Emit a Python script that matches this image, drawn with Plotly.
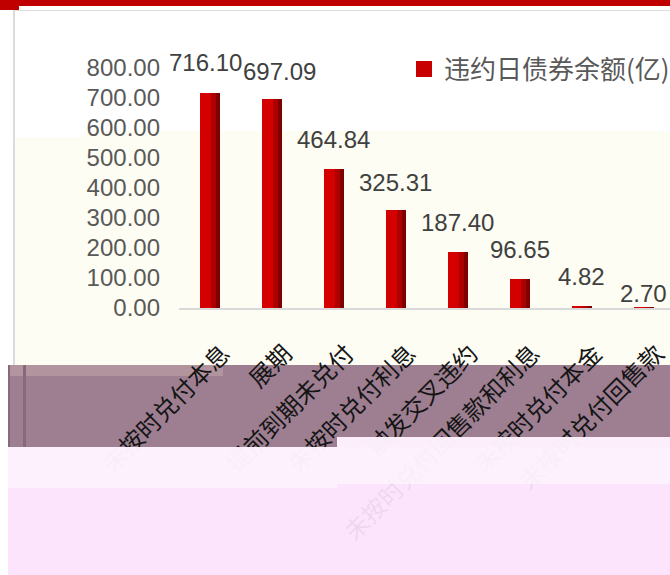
import plotly.graph_objects as go

# ---- data ----
categories = ["未按时兑付本息", "展期", "提前到期未兑付", "未按时兑付利息",
              "触发交叉违约", "未按时兑付回售款和利息", "未按时兑付本金", "未按时兑付回售款"]
values = [716.10, 697.09, 464.84, 325.31, 187.40, 96.65, 4.82, 2.70]
series_name = "违约日债券余额(亿)"
y_ticks = [0, 100, 200, 300, 400, 500, 600, 700, 800]

# ---- styling (pixel geometry of the picture) ----
W, H = 670, 575
L, R, T, B = 179, 0, 68, 267
PW, PH = W - L - R, H - T - B


def X(px):
    return (px - L) / PW


def Y(py):
    return (H - B - py) / PH


label_dx = [-5, 8, 0, 0, 0, 0, 0, 0]
label_dy = [31, 27, 29, 28, 29, 30, 30, 14]

fig = go.Figure()

fig.add_trace(go.Bar(x=categories, y=values, width=0.32, marker=dict(color="#d40000", line=dict(width=0)),
                     showlegend=False, hoverinfo="skip"))
fig.add_trace(go.Bar(x=categories, y=values, width=0.15, offset=0.01, marker=dict(color="#ad0000", line=dict(width=0)),
                     showlegend=False, hoverinfo="skip"))
fig.add_trace(go.Bar(x=categories, y=values, width=0.07, offset=0.09, marker=dict(color="#7e0000", line=dict(width=0)),
                     showlegend=False, hoverinfo="skip"))
fig.add_trace(go.Scatter(x=[None], y=[None], mode="markers", name=series_name,
                         marker=dict(symbol="square", size=17, color="#c80000")))

for i, (c, v) in enumerate(zip(categories, values)):
    fig.add_annotation(x=c, y=v, text=f"{v:.2f}", showarrow=False, xref="x", yref="y",
                       xshift=label_dx[i], yshift=label_dy[i], yanchor="middle",
                       font=dict(family="Liberation Sans", size=24, color="#404040"))

shapes = []


def rect(x0, y0, x1, y1, color, layer="below", opacity=1.0):
    shapes.append(dict(type="rect", xref="paper", yref="paper", x0=X(x0), x1=X(x1), y0=Y(y1), y1=Y(y0),
                       fillcolor=color, line=dict(width=0), layer=layer, opacity=opacity))


# top red band
rect(0, 0, W + 5, 6, "#c00000")
rect(0, 6, 19, 10, "#c00000")
# chart border
rect(14, 10, W + 5, 11, "#dcdcdc")
rect(13, 10, 15, 365, "#dcdcdc")
# cream area
rect(15, 137, 85, 365, "#fdfdf3")
rect(85, 131, W + 5, 365, "#fdfdf3")
# purple band
rect(8, 365, W + 5, 447, "#9d7f91")
rect(8, 365, 223, 376, "#b2949f")
rect(8, 365, 10, 447, "#86697b")
rect(23, 365, 26, 447, "#86697b")
# pink veil (covers the lower parts of the labels)
rect(8, 447, 337, 488, "#fdf1fd", layer="above", opacity=0.985)
rect(337, 437, W + 5, 484, "#fdf1fd", layer="above", opacity=0.985)
rect(8, 488, 337, H + 5, "#fce3fc", layer="above", opacity=0.94)
rect(337, 484, W + 5, H + 5, "#fce3fc", layer="above", opacity=0.94)

fig.update_layout(
    width=W, height=H,
    margin=dict(l=L, r=R, t=T, b=B, pad=0, autoexpand=False),
    paper_bgcolor="white", plot_bgcolor="rgba(0,0,0,0)",
    barmode="overlay", bargap=0,
    shapes=shapes,
    showlegend=True,
    legend=dict(x=X(404), y=Y(69), xanchor="left", yanchor="middle", bgcolor="rgba(0,0,0,0)",
                font=dict(family="Noto Sans CJK SC", size=26, color="#595959")),
    xaxis=dict(type="category", range=[-0.5, 7.42], showgrid=False, zeroline=False, automargin=False,
               showline=True, linecolor="#d9d9d9", linewidth=2, ticks="", tickangle=-45,
               ticklabelstandoff=20, ticklabelshift=13,
               tickfont=dict(family="Noto Sans CJK SC", size=24, color="#151515")),
    yaxis=dict(range=[0, 800], tickvals=y_ticks, tickformat=".2f", showgrid=False, zeroline=False,
               showline=False, ticks="", ticklabelstandoff=18, automargin=False,
               tickfont=dict(family="Liberation Sans", size=24, color="#595959")),
)

fig.write_html("out.html", config={"displayModeBar": False},
               post_script="document.body.style.margin='0';document.body.style.overflow='hidden';")
